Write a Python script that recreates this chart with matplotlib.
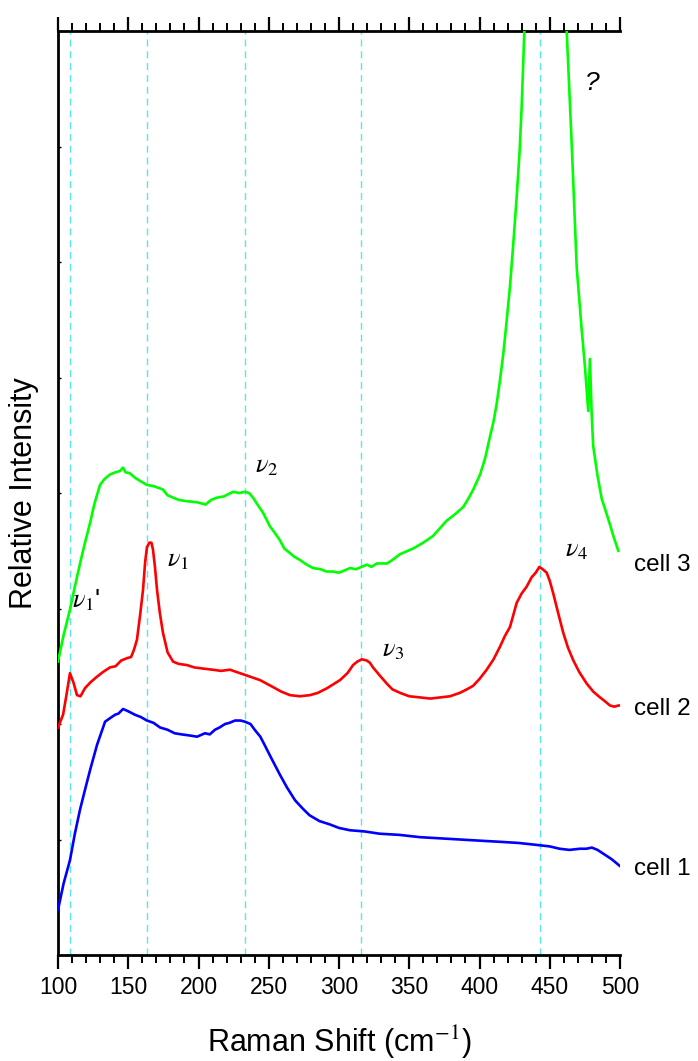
import matplotlib
matplotlib.use("Agg")
import matplotlib.pyplot as plt
from matplotlib.ticker import MultipleLocator

plt.rcParams['font.family'] = ['Liberation Sans', 'DejaVu Sans']
plt.rcParams['mathtext.fontset'] = 'stix'

# Raman spectra, offset per cell (arbitrary intensity units)
cell1_x = [100, 104, 108.5, 112, 115.7, 119, 122.8, 127.8, 133.5, 137, 140.6, 143, 146.3, 150,
           154.8, 159, 163.3, 168, 172.6, 178, 183, 188, 194, 199, 204.6, 208, 211.7, 215, 218.9,
           222, 226, 230, 233, 237, 240, 244, 247, 252, 258, 263, 268.7, 274, 279, 286, 293.6,
           300, 307.8, 318, 329, 343, 357.7, 372, 386, 400, 414.6, 428, 443, 450, 457, 464,
           471.5, 476, 480, 484, 489, 494, 500]
cell1_y = [0.39, 0.62, 0.82, 1.05, 1.26, 1.42, 1.60, 1.82, 2.02, 2.05, 2.08, 2.09, 2.13, 2.11,
           2.08, 2.06, 2.03, 2.01, 1.97, 1.95, 1.92, 1.91, 1.90, 1.89, 1.92, 1.91, 1.95, 1.97, 2.00,
           2.01, 2.03, 2.03, 2.02, 2.00, 1.95, 1.89, 1.82, 1.70, 1.56, 1.45, 1.34, 1.27, 1.21, 1.16, 1.13,
           1.10, 1.08, 1.07, 1.05, 1.04, 1.02, 1.01, 1.00, 0.99, 0.98, 0.97, 0.95, 0.94, 0.92, 0.91,
           0.92, 0.92, 0.93, 0.91, 0.87, 0.83, 0.77]

cell2_x = [100, 103.6, 106, 108.5, 111, 113.5, 116, 119.2, 123, 127.8, 132, 137, 141, 145, 149.1,
           152, 154, 156.2, 158.5, 160.5, 162, 163.3, 165, 166.5, 167.6, 169, 170.5, 172.5, 174.7,
           178, 181.9, 186, 191.8, 197, 203.2, 210, 216, 222.4, 229.5, 236.7, 243.8, 253, 259,
           265.1, 272, 279.4, 285, 291.5, 300.7, 306, 310, 313, 316.2, 319.7, 322, 324.2, 329, 334,
           338, 343.4, 350, 357.7, 365, 371.9, 379, 386.1, 391, 395.4, 400, 405.1, 410, 414.6,
           418, 421.7, 426.5, 430, 433.6, 437.1, 440, 442.6, 445, 447.8, 450, 452.5, 456, 459.6,
           463, 466.8, 471, 476.3, 481, 485.8, 489, 492.9, 496, 498.8, 500]
cell2_y = [1.97, 2.08, 2.25, 2.44, 2.36, 2.25, 2.24, 2.31, 2.36, 2.41, 2.45, 2.49, 2.50, 2.55, 2.57,
           2.58, 2.64, 2.73, 2.95, 3.16, 3.40, 3.53, 3.57, 3.57, 3.51, 3.36, 3.16, 2.96, 2.79,
           2.62, 2.54, 2.52, 2.51, 2.49, 2.48, 2.47, 2.46, 2.47, 2.44, 2.41, 2.38, 2.32, 2.28,
           2.25, 2.24, 2.25, 2.27, 2.31, 2.38, 2.44, 2.51, 2.54, 2.56, 2.55, 2.53, 2.49, 2.42, 2.35,
           2.30, 2.27, 2.24, 2.23, 2.22, 2.23, 2.24, 2.27, 2.30, 2.33, 2.39, 2.47, 2.56, 2.67,
           2.76, 2.84, 3.05, 3.13, 3.19, 3.27, 3.31, 3.36, 3.34, 3.31, 3.24, 3.13, 2.96, 2.79,
           2.66, 2.55, 2.45, 2.35, 2.28, 2.23, 2.20, 2.16, 2.15, 2.16, 2.16]

cell3_x = [100, 104, 108.5, 112, 115.7, 119, 122.8, 126, 129.9, 133, 137, 141, 144, 146.3, 148,
           151.2, 155, 159, 163.3, 168, 174.7, 178, 181.9, 186, 191, 198.9, 205, 209, 213.2, 218,
           224.6, 229, 233.1, 236, 238.8, 242, 245.9, 250.9, 254, 258, 261, 265.1, 268, 272.2,
           277, 281.5, 287, 291, 295.7, 300, 304, 307.8, 312, 316, 319.9, 323, 327, 334.2, 338,
           343.4, 352.9, 360, 367.1, 376.6, 383, 388.5, 392, 395.6, 400.4, 404, 407.5, 410,
           412.2, 414.5, 416.9, 419, 421.7, 424, 426.5, 428.5, 430, 431.9, 435, 447, 459, 462.1,
           465.6, 469.2, 472.7, 475, 477.4, 478.6, 479.8, 480.9, 484, 487, 491.5, 496, 498.8]
cell3_y = [2.54, 2.77, 2.99, 3.19, 3.39, 3.56, 3.74, 3.91, 4.07, 4.12, 4.16, 4.18, 4.19, 4.22, 4.18,
           4.17, 4.13, 4.10, 4.07, 4.06, 4.03, 3.98, 3.96, 3.94, 3.93, 3.92, 3.90, 3.94, 3.96, 3.97,
           4.01, 4.00, 4.01, 4.00, 3.96, 3.90, 3.83, 3.71, 3.66, 3.59, 3.52, 3.48, 3.45, 3.42,
           3.38, 3.35, 3.34, 3.32, 3.32, 3.31, 3.33, 3.35, 3.34, 3.36, 3.38, 3.36, 3.39, 3.39, 3.42,
           3.47, 3.52, 3.57, 3.63, 3.76, 3.82, 3.88, 3.95, 4.03, 4.16, 4.30, 4.49, 4.62,
           4.77, 4.97, 5.20, 5.45, 5.79, 6.15, 6.57, 6.95, 7.34, 7.99, 8.8, 10.5, 8.8, 7.99,
           7.03, 5.95, 5.42, 5.10, 4.71, 5.16, 4.70, 4.41, 4.15, 3.95, 3.78, 3.60, 3.50]

# marker positions of the assigned bands
band_pos = [108.5, 163.3, 233, 315.7, 443]
band_labels = [r"$\nu_\mathit{1}$'", r"$\nu_\mathit{1}$", r"$\nu_\mathit{2}$",
               r"$\nu_\mathit{3}$", r"$\nu_\mathit{4}$"]
band_label_x = [110, 177.6, 240.2, 330.4, 460.9]
band_label_y = [3.07, 3.42, 4.23, 2.64, 3.51]

cell_names = ["cell 1", "cell 2", "cell 3"]
cell_name_y = [0.745, 2.13, 3.38]

fig = plt.figure(figsize=(6.98, 10.61), dpi=100)
ax = fig.add_axes([58 / 698, 1 - 955 / 1061, 562 / 698, 924 / 1061])

for p in band_pos:
    ax.axvline(p, color="#55E8EE", lw=1.0, ls=(0, (5, 3.5)), zorder=1)

ax.plot(cell1_x, cell1_y, color="#0000FF", lw=1.9, zorder=3)
ax.plot(cell2_x, cell2_y, color="#FF0000", lw=1.9, zorder=3)
ax.plot(cell3_x, cell3_y, color="#00FF00", lw=1.9, zorder=3)

for lx, ly, lab in zip(band_label_x, band_label_y, band_labels):
    ax.text(lx, ly, lab, fontsize=19, ha="left", va="center")
ax.text(475, 7.55, "?", fontsize=19, style="italic", ha="left", va="center")

for ly, name in zip(cell_name_y, cell_names):
    ax.text(510, ly, name, fontsize=17.5, ha="left", va="center", clip_on=False)

ax.set_xlim(100, 500)
ax.set_ylim(0, 8)

ax.xaxis.set_major_locator(MultipleLocator(50))
ax.xaxis.set_minor_locator(MultipleLocator(10))
ax.yaxis.set_major_locator(MultipleLocator(1))
ax.tick_params(axis="x", which="major", direction="out", length=10, width=1.6,
               top=True, labeltop=False, labelsize=16.5, pad=5)
ax.tick_params(axis="x", which="minor", direction="out", length=5.5, width=1.4, top=True)
ax.tick_params(axis="y", which="major", direction="in", length=2.5, width=1.0,
               labelleft=False)

ax.spines["right"].set_visible(False)
for s in ["left", "top", "bottom"]:
    ax.spines[s].set_linewidth(2.0)

ax.set_xlabel("Raman Shift (cm$^{-1}$)", fontsize=22, labelpad=18)
ax.set_ylabel("Relative Intensity", fontsize=22, labelpad=14)

fig.savefig("out.png", dpi=100)
